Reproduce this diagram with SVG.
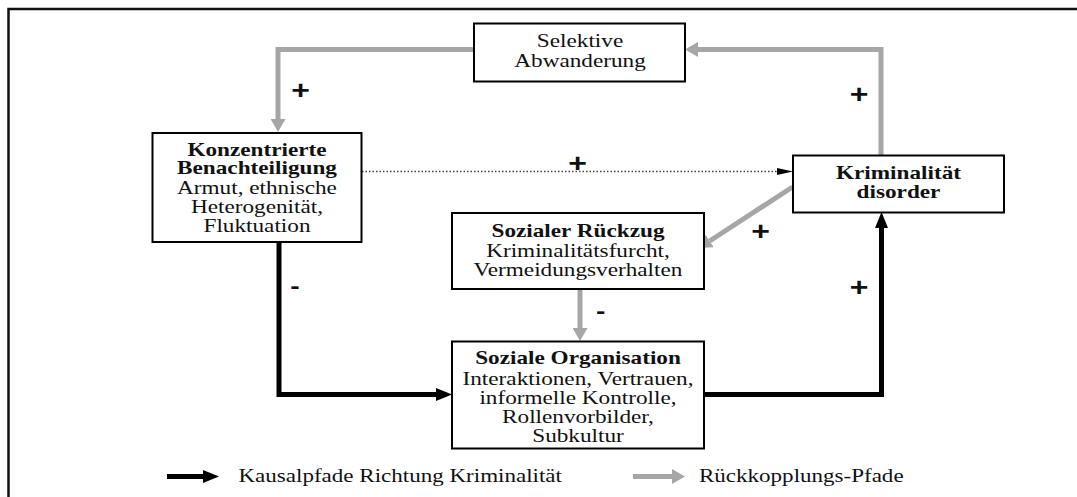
<svg xmlns="http://www.w3.org/2000/svg" width="1077" height="497" viewBox="0 0 1077 497">
<style>
.box{fill:#fff;stroke:#000;stroke-width:2}
.t{font-size:18px;fill:#111;text-anchor:middle}
.b{font-weight:bold}
.lg{text-anchor:start}
.sign{font-size:25px;font-weight:bold;fill:#111;text-anchor:middle}
.gray{fill:none;stroke:#a6a6a6;stroke-width:5}
.black{fill:none;stroke:#000;stroke-width:5}
.dot{fill:none;stroke:#444;stroke-width:1.5;stroke-dasharray:1.5 2}
</style>
<defs>
<marker id="ag" markerUnits="userSpaceOnUse" markerWidth="13" markerHeight="15" refX="0" refY="7.5" orient="auto" viewBox="0 0 13 15"><path d="M0,0 L13,7.5 L0,15 z" fill="#a6a6a6"/></marker>
<marker id="ab" markerUnits="userSpaceOnUse" markerWidth="16" markerHeight="13" refX="0" refY="6.5" orient="auto" viewBox="0 0 16 13"><path d="M0,0 L16,6.5 L0,13 z" fill="#000"/></marker>
<marker id="ad" markerUnits="userSpaceOnUse" markerWidth="16" markerHeight="8" refX="0" refY="4" orient="auto" viewBox="0 0 16 8"><path d="M0,0.5 L16,4 L0,7.5 z" fill="#000"/></marker>
</defs>
<rect width="1077" height="497" fill="#fff"/>
<path d="M8.5,497 V9 H1077" fill="none" stroke="#111" stroke-width="2.5"/>

<g id="connectors">
<path class="gray" d="M474,49.5 H278 V119" marker-end="url(#ag)"/>
<path class="gray" d="M881,155 V49.5 H698" marker-end="url(#ag)"/>
<path class="gray" d="M792.5,187 L709.7,241" marker-end="url(#ag)"/>
<path class="gray" d="M580,289 V328" marker-end="url(#ag)"/>
<path class="black" d="M279,242 V394.5 H436" marker-end="url(#ab)"/>
<path class="black" d="M704,394.5 H881.5 V228" marker-end="url(#ab)"/>
<path class="dot" d="M362,171.5 H777" marker-end="url(#ad)"/>
<g font-family="'Liberation Sans', Arial, sans-serif">
<text class="sign" transform="matrix(1.28 0 0 1 300.7 98.7)">+</text>
<text class="sign" transform="matrix(1.28 0 0 1 859 102.7)">+</text>
<text class="sign" transform="matrix(1.28 0 0 1 577.6 171.7)">+</text>
<text class="sign" transform="matrix(1.28 0 0 1 760.7 240.4)">+</text>
<text class="sign" transform="matrix(1.28 0 0 1 859 295.7)">+</text>
<text class="sign" style="font-size:22px" transform="matrix(1.28 0 0 1 295 293)">-</text>
<text class="sign" style="font-size:22px" transform="matrix(1.28 0 0 1 600.7 318)">-</text>
</g>
</g>

<g font-family="'Liberation Serif', 'Times New Roman', serif">
<g id="selektive">
<rect class="box" x="474" y="23.5" width="211" height="58"/>
<text class="t" transform="matrix(1.29 0 0 1 580 47)">Selektive</text>
<text class="t" transform="matrix(1.29 0 0 1 580 67)">Abwanderung</text>
</g>

<g id="konzentrierte">
<rect class="box" x="152.5" y="133" width="209" height="109"/>
<text class="t b" transform="matrix(1.29 0 0 1 257 156)">Konzentrierte</text>
<text class="t b" transform="matrix(1.29 0 0 1 257 174)">Benachteiligung</text>
<text class="t" transform="matrix(1.29 0 0 1 257 194)">Armut, ethnische</text>
<text class="t" transform="matrix(1.29 0 0 1 257 213)">Heterogenität,</text>
<text class="t" transform="matrix(1.29 0 0 1 257 232)">Fluktuation</text>
</g>

<g id="kriminalitaet">
<rect class="box" x="793" y="155.5" width="211" height="57"/>
<text class="t b" transform="matrix(1.29 0 0 1 898.5 178.5)">Kriminalität</text>
<text class="t b" transform="matrix(1.29 0 0 1 898.5 198)">disorder</text>
</g>

<g id="rueckzug">
<rect class="box" x="452" y="213" width="252" height="76"/>
<text class="t b" transform="matrix(1.29 0 0 1 578 237)">Sozialer Rückzug</text>
<text class="t" transform="matrix(1.29 0 0 1 578 257)">Kriminalitätsfurcht,</text>
<text class="t" transform="matrix(1.29 0 0 1 578 276)">Vermeidungsverhalten</text>
</g>

<g id="organisation">
<rect class="box" x="452" y="341.5" width="252" height="107"/>
<text class="t b" transform="matrix(1.29 0 0 1 578 364)">Soziale Organisation</text>
<text class="t" transform="matrix(1.29 0 0 1 578 385)">Interaktionen, Vertrauen,</text>
<text class="t" transform="matrix(1.29 0 0 1 578 404)">informelle Kontrolle,</text>
<text class="t" transform="matrix(1.29 0 0 1 578 423)">Rollenvorbilder,</text>
<text class="t" transform="matrix(1.29 0 0 1 578 442)">Subkultur</text>
</g>

<g id="legend">
<path class="black" d="M167,476.5 H203" marker-end="url(#ab)"/>
<text class="t lg" transform="matrix(1.28 0 0 1 238.5 482)">Kausalpfade Richtung Kriminalität</text>
<path class="gray" d="M633,476.5 H672" marker-end="url(#ag)"/>
<text class="t lg" transform="matrix(1.28 0 0 1 699 482)">Rückkopplungs-Pfade</text>
</g>
</g>
</svg>
